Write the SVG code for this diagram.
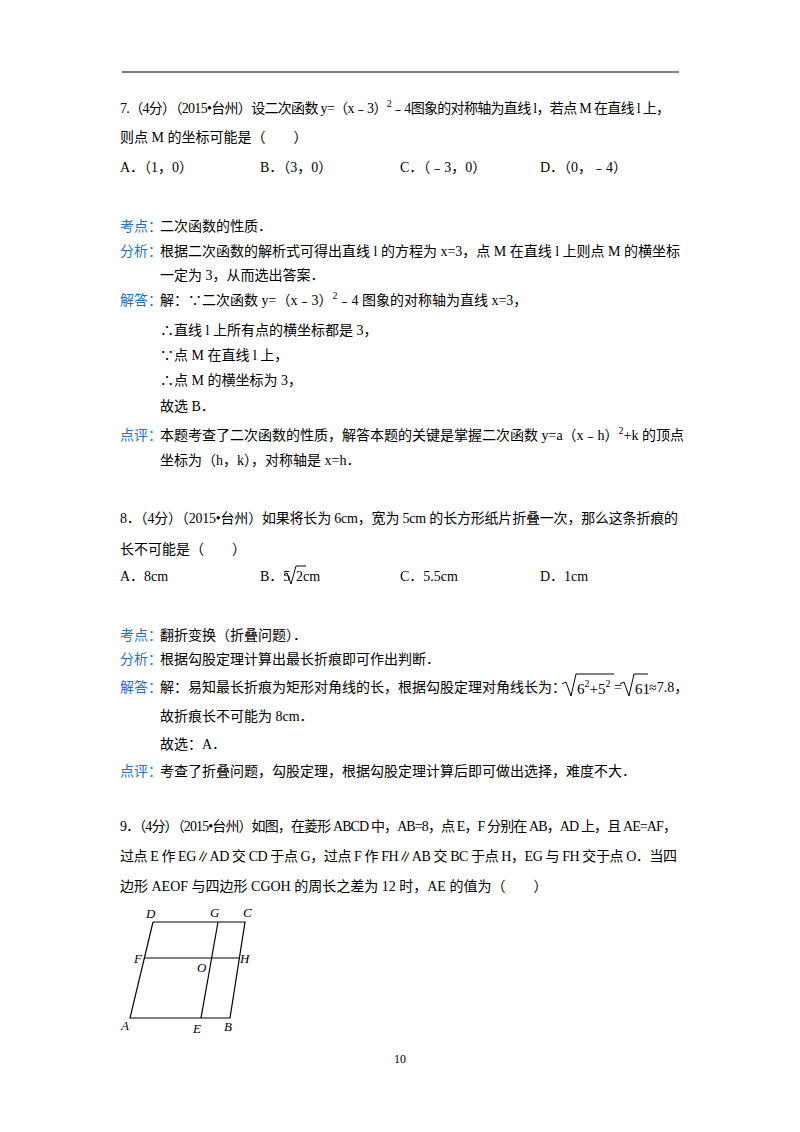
<svg xmlns="http://www.w3.org/2000/svg" width="800" height="1132" viewBox="0 0 800 1132">
<style>
text{font-family:"Liberation Serif","Noto Sans CJK SC",serif;font-size:14px;fill:#000}
.k{fill:#1f6fc5}
.s{font-size:10px}
.f{font-family:"Liberation Serif",serif;font-style:italic;font-size:13px}
line,polyline,path{stroke:#000;fill:none}
</style>
<rect width="800" height="1132" fill="#fff"/>
<line x1="122" y1="72" x2="679" y2="72" stroke-width="1.2"/>
<g id="q7">
<text x="120" y="113" textLength="550" lengthAdjust="spacing">7.（4分）（2015•台州）设二次函数 y=（x﹣3）<tspan class="s" dy="-6">2</tspan><tspan dy="6">﹣4图象的对称轴为直线 l，若点 M 在直线 l 上，</tspan></text>
<text x="120" y="142">则点 M 的坐标可能是（　　）</text>
<text x="120" y="172">A．（1，0）</text>
<text x="260" y="172">B．（3，0）</text>
<text x="400" y="172">C．（﹣3，0）</text>
<text x="540" y="172">D．（0，﹣4）</text>
<text x="120" y="231"><tspan class="k">考点：</tspan><tspan x="160">二次函数的性质．</tspan></text>
<text x="120" y="256"><tspan class="k">分析：</tspan><tspan x="160">根据二次函数的解析式可得出直线 l 的方程为 x=3，点 M 在直线 l 上则点 M 的横坐标</tspan></text>
<text x="160" y="280">一定为 3，从而选出答案．</text>
<text x="120" y="305"><tspan class="k">解答：</tspan><tspan x="160">解：∵二次函数 y=（x﹣3）</tspan><tspan class="s" dy="-6">2</tspan><tspan dy="6">﹣4 图象的对称轴为直线 x=3，</tspan></text>
<text x="160" y="335">∴直线 l 上所有点的横坐标都是 3，</text>
<text x="160" y="360">∵点 M 在直线 l 上，</text>
<text x="160" y="385">∴点 M 的横坐标为 3，</text>
<text x="160" y="411">故选 B．</text>
<text x="120" y="440"><tspan class="k">点评：</tspan><tspan x="160">本题考查了二次函数的性质，解答本题的关键是掌握二次函数 y=a（x﹣h）</tspan><tspan class="s" dy="-6">2</tspan><tspan dy="6">+k 的顶点</tspan></text>
<text x="160" y="465">坐标为（h，k），对称轴是 x=h．</text>
</g>
<g id="q8">
<text x="120" y="523" textLength="558" lengthAdjust="spacing">8．（4分）（2015•台州）如果将长为 6cm，宽为 5cm 的长方形纸片折叠一次，那么这条折痕的</text>
<text x="120" y="554">长不可能是（　　）</text>
<text x="120" y="581">A．8cm</text>
<text x="260" y="581">B．5</text>
<path d="M284 575 L287 573 L291 584 L296 566 L306 566" stroke-width="1"/>
<text x="296" y="581">2cm</text>
<text x="400" y="581">C．5.5cm</text>
<text x="540" y="581">D．1cm</text>
<text x="120" y="640"><tspan class="k">考点：</tspan><tspan x="160">翻折变换（折叠问题）．</tspan></text>
<text x="120" y="664"><tspan class="k">分析：</tspan><tspan x="160">根据勾股定理计算出最长折痕即可作出判断．</tspan></text>
<text x="120" y="692"><tspan class="k">解答：</tspan><tspan x="160">解：易知最长折痕为矩形对角线的长，根据勾股定理对角线长为：</tspan></text>
<path d="M562 684 L566 682 L571 696 L576 674 L614 674" stroke-width="1"/>
<text x="577" y="694" style="font-size:15px">6<tspan class="s" dy="-7">2</tspan><tspan dy="7">+5</tspan><tspan class="s" dy="-7">2</tspan></text>
<text x="614" y="692">=</text>
<path d="M620 684 L624 682 L629 696 L634 674 L648 674" stroke-width="1"/>
<text x="635" y="694" style="font-size:15px">61</text>
<text x="649" y="692">≈7.8，</text>
<text x="160" y="721">故折痕长不可能为 8cm．</text>
<text x="160" y="749">故选：A．</text>
<text x="120" y="776"><tspan class="k">点评：</tspan><tspan x="160">考查了折叠问题，勾股定理，根据勾股定理计算后即可做出选择，难度不大．</tspan></text>
</g>
<g id="q9">
<text x="120" y="831" textLength="557" lengthAdjust="spacing">9．（4分）（2015•台州）如图，在菱形 ABCD 中，AB=8，点 E，F 分别在 AB，AD 上，且 AE=AF，</text>
<text x="120" y="861" textLength="557" lengthAdjust="spacing">过点 E 作 EG∥AD 交 CD 于点 G，过点 F 作 FH∥AB 交 BC 于点 H，EG 与 FH 交于点 O．当四</text>
<text x="120" y="891">边形 AEOF 与四边形 CGOH 的周长之差为 12 时，AE 的值为（　　）</text>
</g>
<g id="figure">
<polyline points="153,922 245,922 230,1018 130,1018 153,922" stroke-width="1.2"/>
<line x1="144" y1="958" x2="240" y2="958" stroke-width="1.2"/>
<line x1="218" y1="922" x2="201" y2="1018" stroke-width="1.2"/>
<text class="f" x="146" y="918">D</text>
<text class="f" x="210" y="917">G</text>
<text class="f" x="243" y="917">C</text>
<text class="f" x="134" y="963">F</text>
<text class="f" x="197" y="972">O</text>
<text class="f" x="240" y="963">H</text>
<text class="f" x="121" y="1030">A</text>
<text class="f" x="193" y="1033">E</text>
<text class="f" x="224" y="1031">B</text>
</g>
<text x="400" y="1063" text-anchor="middle" style="font-size:12px">10</text>
</svg>
